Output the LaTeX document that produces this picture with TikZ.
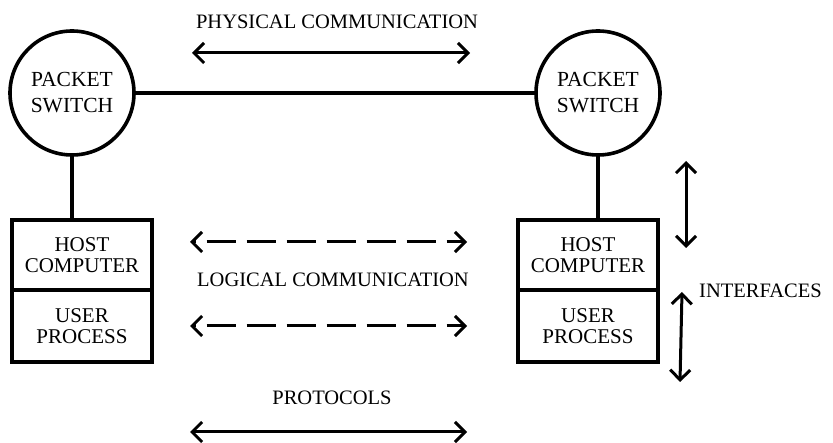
\documentclass[tikz,border=0pt]{standalone}
\usepackage{fontspec}
\setmainfont{Liberation Serif}
\usetikzlibrary{arrows.meta}
\begin{document}
\begin{tikzpicture}[x=1pt,y=-1pt,
  switchnode/.style={circle,draw,line width=3.6pt,minimum size=124pt,inner sep=0pt,align=center,font=\fontsize{21.5}{26}\selectfont},
  boxpart/.style={rectangle,draw,line width=3.2pt,minimum width=140pt,inner sep=0pt,align=center,font=\fontsize{21}{21.5}\selectfont},
  link/.style={line width=3.2pt},
  twoway/.style={line width=3pt,{Straight Barb[length=10pt,width=20pt]}-{Straight Barb[length=10pt,width=20pt]}},
  lbl/.style={font=\fontsize{20.5}{22}\selectfont,inner sep=0pt}]
\useasboundingbox (0,0) rectangle (833,443);
% packet switches
\node[switchnode] (pL) at (72,93) {PACKET\\SWITCH};
\node[switchnode] (pR) at (598,93) {PACKET\\SWITCH};
% host boxes
\node[boxpart,minimum height=70pt] (hostL) at (82,255) {HOST\\COMPUTER};
\node[boxpart,minimum height=72pt] (userL) at (82,326) {USER\\PROCESS};
\node[boxpart,minimum height=70pt] (hostR) at (588,255) {HOST\\COMPUTER};
\node[boxpart,minimum height=72pt] (userR) at (588,326) {USER\\PROCESS};
% links
\draw[link] (pL.east) -- (pR.west);
\draw[link] (pL.south) -- (pL.south |- hostL.north);
\draw[link] (pR.south) -- (pR.south |- hostR.north);
% labels
\node[lbl] (phys) at (337,22) {PHYSICAL COMMUNICATION};
\node[lbl] (logi) at (333,280) {LOGICAL COMMUNICATION};
\node[lbl] (prot) at (332,398) {PROTOCOLS};
\node[lbl,anchor=west] (intf) at (699,291) {INTERFACES};
% arrows
\coordinate (phA) at (192,53);
\coordinate (phB) at (470,53);
\draw[twoway] (phA) -- (phB);
\coordinate (lgA) at (190,242);
\coordinate (lgB) at (467,242);
\draw[twoway,dash pattern=on 29pt off 11pt,dash phase=-13pt] (lgA) -- (lgB);
\coordinate (lhA) at (190,326);
\coordinate (lhB) at (467,326);
\draw[twoway,dash pattern=on 29pt off 11pt,dash phase=-13pt] (lhA) -- (lhB);
\coordinate (prA) at (190,432);
\coordinate (prB) at (467,432);
\draw[twoway] (prA) -- (prB);
% interfaces
\coordinate (ifA) at (686,161);
\coordinate (ifB) at (686,248);
\draw[twoway] (ifA) -- (ifB);
\coordinate (ifC) at (682,292);
\coordinate (ifD) at (680,382);
\draw[twoway] (ifC) -- (ifD);
\end{tikzpicture}
\end{document}
